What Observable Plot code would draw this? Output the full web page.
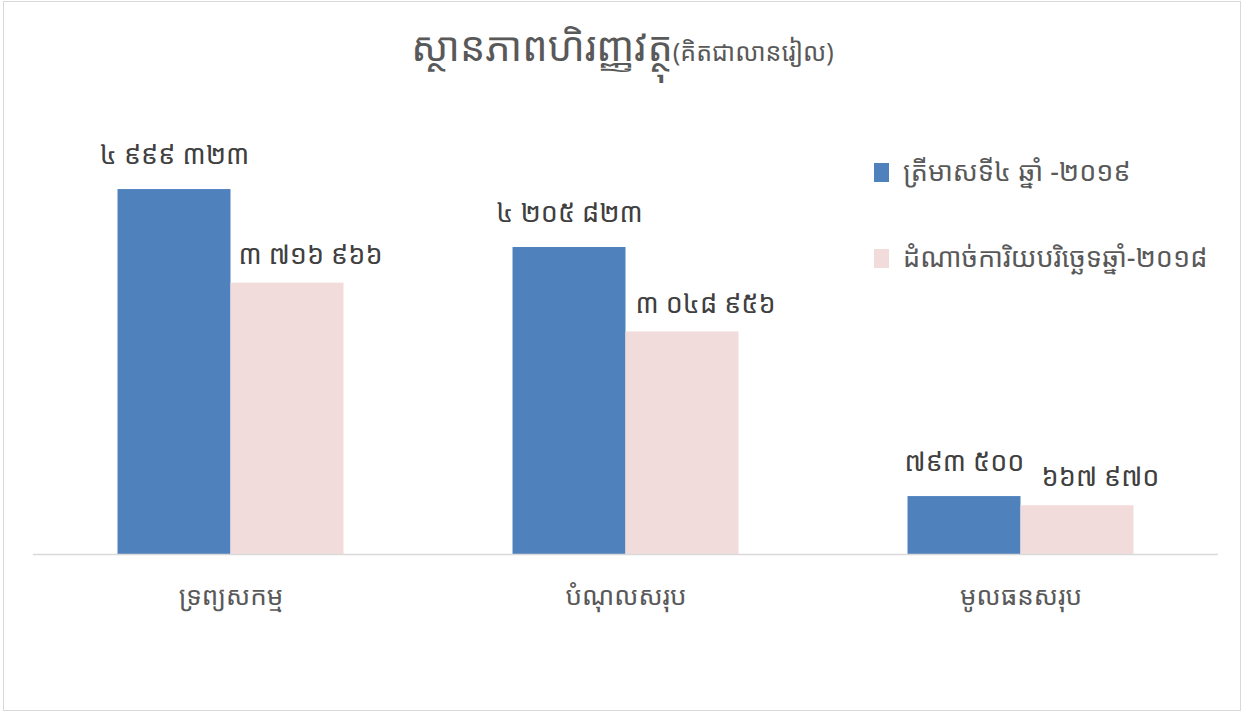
<!DOCTYPE html>
<html>
<head>
<meta charset="utf-8">
<script src="https://cdn.jsdelivr.net/npm/d3@7"></script>
<script src="https://cdn.jsdelivr.net/npm/@observablehq/plot@0.6"></script>
<style>
  html, body { margin: 0; padding: 0; background: #fff; }
  body { width: 1245px; height: 713px; position: relative; overflow: hidden;
         font-family: "Khmer OS Siemreap", "Noto Sans Khmer", "Noto Sans", "DejaVu Sans", sans-serif; }
  #frame { position: absolute; left: 3px; top: 1px; width: 1236px; height: 708px; border: 1px solid #d9d9d9; }
  #title { position: absolute; left: 0; width: 1245px; top: 18px; text-align: center; color: #595959; font-size: 40px; }
  #title small { font-size: 25px; }
  #chart { position: absolute; left: 0; top: 0; }
  .leg { position: absolute; left: 874px; font-size: 27px; color: #595959; white-space: nowrap; }
  .leg span.sw { display: inline-block; width: 15px; height: 19px; margin-right: 14px; vertical-align: -1px; }
</style>
</head>
<body>
<div id="frame"></div>
<div id="chart"></div>
<div id="title">ស្ថានភាពហិរញ្ញវត្ថុ<small>(គិតជាលានរៀល)</small></div>
<div id="legend"></div>
<script>
const categories = ["ទ្រព្យសកម្ម", "បំណុលសរុប", "មូលធនសរុប"];
const seriesNames = ["ត្រីមាសទី៤ ឆ្នាំ -២០១៩", "ដំណាច់ការិយបរិច្ឆេទឆ្នាំ-២០១៨"];
const values2019 = [4999323, 4205823, 793500];
const values2018 = [3716966, 3048956, 667970];
const colors = ["#4F81BD", "#F2DCDB"];

const khDigits = "០១២៣៤៥៦៧៨៩";
function kh(v) {
  const s = d3.format(",")(v).replace(/,/g, " ");
  return s.replace(/[0-9]/g, d => khDigits[+d]);
}

const data = [];
categories.forEach((c, i) => {
  data.push({cat: c, series: seriesNames[0], value: values2019[i]});
  data.push({cat: c, series: seriesNames[1], value: values2018[i]});
});

const chart = Plot.plot({
  width: 1245,
  height: 640,
  marginLeft: 33,
  marginRight: 27,
  marginTop: 116,
  marginBottom: 86,
  style: { fontFamily: "inherit", background: "transparent" },
  fx: { domain: categories, padding: 0, round: false, label: null },
  x: { domain: seriesNames, paddingInner: 0, paddingOuter: 0.748, round: false, axis: null },
  y: { domain: [0, 6000000], axis: null },
  color: { domain: seriesNames, range: colors },
  marks: [
    Plot.barY(data, { fx: "cat", x: "series", y: "value", fill: "series" }),
    Plot.ruleY([0], { stroke: "#d9d9d9", strokeWidth: 1.5 }),
    Plot.text(data.filter(d => d.series === seriesNames[0]), {
      fx: "cat", x: "series", y: "value", text: d => kh(d.value),
      dy: -34, fontSize: 27, fill: "#404040"
    }),
    Plot.text(data.filter(d => d.series === seriesNames[1]), {
      fx: "cat", x: "series", y: "value", text: d => kh(d.value),
      dy: -28, dx: 23, fontSize: 27, fill: "#404040"
    }),
    Plot.axisFx({ anchor: "bottom", tickSize: 0, tickPadding: 32, fontSize: 26, color: "#595959", label: null })
  ]
});
document.getElementById("chart").appendChild(chart);

const legend = document.getElementById("legend");
seriesNames.forEach((s, i) => {
  const div = document.createElement("div");
  div.className = "leg";
  div.style.top = (152 + i * 86) + "px";
  const sw = document.createElement("span");
  sw.className = "sw";
  sw.style.background = colors[i];
  div.appendChild(sw);
  div.appendChild(document.createTextNode(s));
  legend.appendChild(div);
});
</script>
</body>
</html>
